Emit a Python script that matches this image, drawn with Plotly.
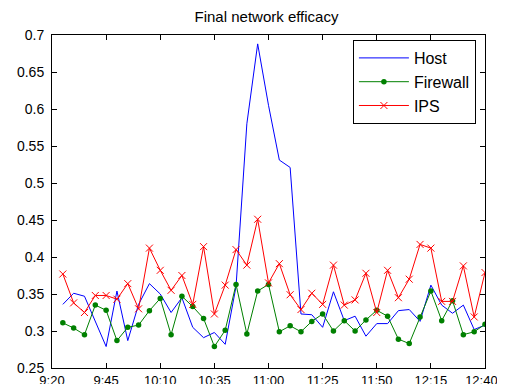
import plotly.graph_objects as go

times = ["9:25", "9:30", "9:35", "9:40", "9:45", "9:50", "9:55", "10:00",
         "10:05", "10:10", "10:15", "10:20", "10:25", "10:30", "10:35", "10:40",
         "10:45", "10:50", "10:55", "11:00", "11:05", "11:10", "11:15", "11:20",
         "11:25", "11:30", "11:35", "11:40", "11:45", "11:50", "11:55", "12:00",
         "12:05", "12:10", "12:15", "12:20", "12:25", "12:30", "12:35", "12:40"]

host = [0.336, 0.351, 0.347, 0.312, 0.279, 0.354, 0.287, 0.336, 0.364, 0.350,
        0.325, 0.345, 0.305, 0.291, 0.298, 0.282, 0.360, 0.580, 0.688, 0.605,
        0.531, 0.521, 0.323, 0.322, 0.305, 0.353, 0.314, 0.320, 0.293, 0.310,
        0.310, 0.3275, 0.329, 0.313, 0.362, 0.335, 0.324, 0.335, 0.302, 0.308]

firewall = [0.311, 0.304, 0.295, 0.335, 0.328, 0.287, 0.305, 0.308, 0.3275, 0.344,
            0.295, 0.347, 0.333, 0.317, 0.279, 0.301, 0.363, 0.296, 0.354, 0.363,
            0.299, 0.307, 0.299, 0.313, 0.323, 0.300, 0.314, 0.300, 0.315, 0.328,
            0.320, 0.289, 0.283, 0.319, 0.354, 0.314, 0.341, 0.295, 0.299, 0.309]

ips = [0.377, 0.338, 0.325, 0.348, 0.348, 0.343, 0.364, 0.330, 0.412, 0.382,
       0.355, 0.375, 0.336, 0.414, 0.323, 0.362, 0.410, 0.389, 0.451, 0.365,
       0.391, 0.349, 0.329, 0.351, 0.336, 0.389, 0.335, 0.342, 0.378, 0.325,
       0.382, 0.345, 0.370, 0.417, 0.412, 0.340, 0.340, 0.388, 0.319, 0.379]

x_tick_labels = ["9:20", "9:45", "10:10", "10:35", "11:00", "11:25", "11:50", "12:15", "12:40"]
y_tick_labels = ["0.25", "0.3", "0.35", "0.4", "0.45", "0.5", "0.55", "0.6", "0.65", "0.7"]


def to_min(t):
    h, m = t.split(":")
    return int(h) * 60 + int(m) - (9 * 60 + 20)


x = [to_min(t) for t in times]
xt = [to_min(t) for t in x_tick_labels]
yt = [float(v) for v in y_tick_labels]
# the last label is nudged left (as in the original) so it stays on the page
x_text = x_tick_labels[:-1] + [x_tick_labels[-1] + "\u00a0\u00a0"]

font = "Arial, Liberation Sans, sans-serif"
# page body keeps its default 8px margin: figure is placed at (8, 8)
W, H = 489, 376

fig = go.Figure()
fig.add_trace(go.Scatter(x=x, y=host, mode="lines", name="Host",
                         line=dict(color="#0000FF", width=1)))
fig.add_trace(go.Scatter(x=x, y=firewall, mode="lines+markers", name="Firewall",
                         line=dict(color="#008000", width=1),
                         marker=dict(symbol="circle", size=5.5, color="#008000")))
fig.add_trace(go.Scatter(x=x, y=ips, mode="lines+markers", name="IPS",
                         line=dict(color="#FF0000", width=1),
                         marker=dict(symbol="x-thin", size=7,
                                     line=dict(color="#FF0000", width=1))))

fig.update_layout(
    width=W, height=H,
    margin=dict(l=44, r=12, t=27, b=16, autoexpand=False),
    paper_bgcolor="white", plot_bgcolor="white",
    font=dict(family=font, size=14, color="black"),
    title=dict(text="Final network efficacy", x=258.5 / W, xanchor="center",
               y=1 - 9 / H, yanchor="middle", automargin=False,
               font=dict(family=font, size=15, color="black")),
    showlegend=True,
    legend=dict(x=0.979, y=0.985, xanchor="right", yanchor="top",
                bgcolor="white", bordercolor="black", borderwidth=1,
                font=dict(family=font, size=16, color="black"),
                itemwidth=50),
)
fig.update_xaxes(range=[0, 200], tickvals=xt, ticktext=x_text, automargin=False,
                 showgrid=False, zeroline=False, showline=True, linecolor="black",
                 linewidth=1, mirror="allticks", ticks="inside", ticklen=5,
                 tickcolor="black", ticklabeloverflow="allow",
                 tickfont=dict(family=font, size=13, color="black"))
fig.update_yaxes(range=[0.25, 0.7], tickvals=yt, ticktext=y_tick_labels, automargin=False,
                 showgrid=False, zeroline=False, showline=True, linecolor="black",
                 linewidth=1, mirror="allticks", ticks="inside", ticklen=5,
                 tickcolor="black", ticklabelstandoff=4,
                 tickfont=dict(family=font, size=14, color="black"))

fig.write_html("out.html", config={"displayModeBar": False})
